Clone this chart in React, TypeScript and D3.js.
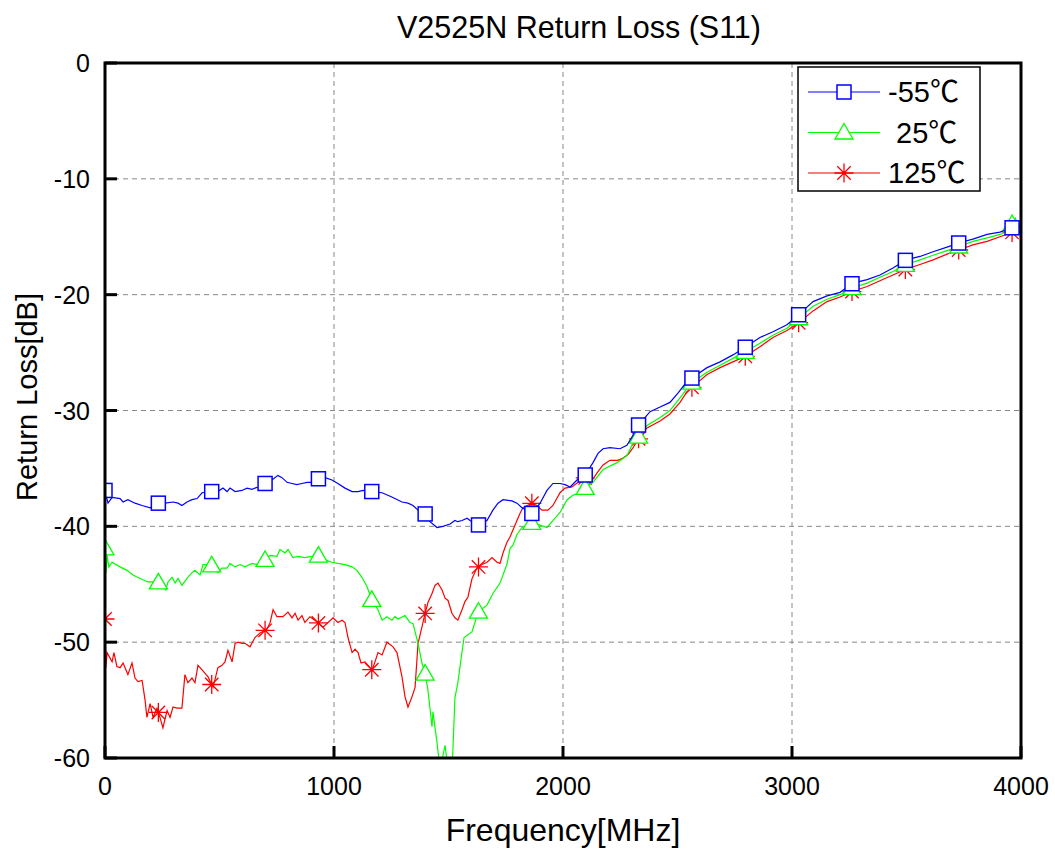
import React from 'react'
import * as d3 from 'd3'

// frequency [MHz], return loss [dB]
const lowTemp: [number, number][] = [
  [0, -36.9], [13, -38.0], [31, -37.5], [66, -37.6], [79, -37.9], [100, -37.7], [131, -38.0], [162, -38.2],
  [197, -38.4], [231, -38.0], [262, -38.0], [297, -37.9], [319, -38.0], [336, -38.2], [358, -37.9], [380, -37.7],
  [402, -37.6], [424, -37.1], [463, -37.0], [493, -37.0], [515, -36.7], [533, -37.0], [546, -36.7], [568, -37.0],
  [598, -36.9], [620, -36.7], [642, -36.8], [668, -36.6], [699, -36.3], [729, -36.0], [755, -35.6], [773, -35.8],
  [795, -36.2], [817, -36.3], [838, -36.4], [860, -36.3], [882, -36.2], [904, -36.2], [930, -35.9], [961, -35.8],
  [991, -36.0], [1017, -36.3], [1048, -36.7], [1079, -37.0], [1105, -37.0], [1127, -36.9], [1166, -37.0],
  [1210, -37.1], [1245, -37.4], [1266, -37.6], [1297, -37.9], [1323, -38.0], [1345, -38.2], [1367, -38.6],
  [1397, -38.9], [1419, -39.6], [1450, -40.1], [1476, -40.0], [1507, -39.8], [1528, -39.5], [1541, -39.6],
  [1559, -39.5], [1581, -39.3], [1594, -39.5], [1629, -39.9], [1668, -39.5], [1694, -38.6], [1716, -38.0],
  [1738, -37.7], [1777, -37.8], [1799, -38.0], [1821, -38.4], [1865, -38.9], [1900, -38.0], [1930, -36.9],
  [1956, -36.3], [1987, -36.3], [2009, -36.4], [2031, -36.6], [2061, -36.0], [2096, -35.6], [2131, -34.5],
  [2153, -33.7], [2175, -33.3], [2205, -33.2], [2249, -33.3], [2279, -33.0], [2301, -32.3], [2328, -31.3],
  [2380, -30.1], [2424, -29.7], [2467, -29.3], [2502, -28.5], [2541, -27.5], [2563, -27.2], [2629, -26.3],
  [2686, -25.8], [2742, -25.2], [2799, -24.5], [2860, -23.7], [2917, -23.2], [2978, -22.6], [3031, -21.7],
  [3092, -20.6], [3153, -20.1], [3210, -19.8], [3266, -19.0], [3328, -18.7], [3384, -18.3], [3441, -17.7],
  [3498, -17.0], [3559, -16.7], [3616, -16.3], [3677, -15.9], [3734, -15.5], [3790, -15.2], [3852, -14.8],
  [3908, -14.6], [3965, -14.2], [4000, -14.1],
]

const roomTemp: [number, number][] = [
  [0, -41.9], [5, -44.0], [9, -42.5], [17, -43.5], [31, -43.1], [66, -43.5], [96, -43.8], [122, -44.2],
  [153, -44.5], [188, -44.8], [231, -44.8], [266, -45.5], [275, -44.8], [293, -44.4], [306, -44.9], [319, -44.5],
  [336, -45.1], [358, -44.5], [380, -44.0], [393, -43.8], [415, -44.2], [428, -43.3], [463, -43.3], [493, -44.0],
  [511, -43.6], [533, -43.6], [546, -43.2], [568, -43.5], [590, -43.3], [611, -43.5], [642, -43.2], [664, -43.3],
  [699, -42.9], [721, -42.5], [751, -42.6], [764, -42.0], [786, -42.3], [799, -42.0], [821, -42.7], [843, -42.6],
  [873, -42.7], [904, -42.6], [930, -42.5], [961, -42.9], [991, -43.1], [1017, -43.2], [1048, -43.3],
  [1079, -43.5], [1100, -43.8], [1122, -44.4], [1144, -45.2], [1166, -46.4], [1192, -47.2], [1210, -48.1],
  [1231, -47.8], [1253, -48.1], [1266, -47.8], [1280, -48.0], [1310, -47.7], [1332, -48.3], [1345, -48.4],
  [1367, -50.1], [1384, -51.8], [1397, -52.6], [1410, -54.1], [1428, -57.3], [1432, -56.0], [1450, -58.7],
  [1463, -61.0], [1485, -58.9], [1498, -61.0], [1515, -61.5], [1528, -54.8], [1541, -53.5], [1555, -51.4],
  [1568, -49.6], [1603, -49.1], [1629, -47.4], [1668, -46.8], [1694, -45.8], [1725, -44.9], [1755, -43.3],
  [1769, -41.9], [1782, -41.6], [1799, -40.7], [1821, -40.1], [1865, -39.7], [1900, -39.9], [1930, -40.1],
  [1956, -39.5], [1987, -38.8], [2018, -37.7], [2044, -37.3], [2074, -37.1], [2096, -36.7], [2131, -36.2],
  [2175, -35.1], [2236, -34.5], [2279, -33.9], [2306, -32.8], [2328, -32.3], [2367, -31.3], [2424, -30.6],
  [2467, -30.0], [2511, -28.9], [2546, -28.0], [2563, -27.6], [2629, -26.7], [2686, -26.1], [2742, -25.5],
  [2799, -24.9], [2860, -24.2], [2917, -23.5], [2978, -22.9], [3031, -22.0], [3092, -21.0], [3153, -20.4],
  [3210, -20.0], [3266, -19.4], [3328, -19.0], [3384, -18.5], [3441, -18.0], [3498, -17.4], [3559, -17.0],
  [3616, -16.6], [3677, -16.2], [3734, -15.8], [3790, -15.4], [3852, -15.1], [3908, -14.8], [3943, -14.5],
  [3961, -13.9], [3975, -13.4], [3990, -14.2], [4000, -14.3],
]

const highTemp: [number, number][] = [
  [0, -48.0], [4, -52.2], [9, -50.9], [31, -51.7], [39, -50.9], [52, -52.1], [66, -52.2], [79, -51.8],
  [100, -52.8], [118, -51.8], [131, -53.1], [144, -53.4], [162, -53.3], [175, -55.0], [183, -56.5], [197, -55.3],
  [210, -56.5], [227, -55.7], [240, -56.5], [253, -57.4], [271, -55.9], [284, -56.5], [297, -55.6], [314, -55.7],
  [336, -55.7], [349, -52.8], [362, -53.5], [380, -53.1], [393, -53.5], [406, -52.0], [424, -52.4], [437, -52.7],
  [450, -53.0], [472, -53.9], [493, -52.2], [511, -52.0], [524, -51.7], [537, -50.7], [555, -51.7], [568, -50.1],
  [581, -50.0], [598, -50.1], [611, -50.1], [633, -50.4], [655, -49.6], [677, -49.2], [707, -48.9], [721, -48.3],
  [734, -47.2], [751, -47.8], [764, -47.8], [777, -47.8], [799, -47.4], [817, -47.9], [830, -47.5], [843, -48.1],
  [860, -47.7], [873, -48.3], [895, -47.8], [930, -48.3], [952, -48.7], [974, -48.3], [996, -47.9], [1017, -48.3],
  [1035, -48.1], [1048, -48.3], [1061, -49.6], [1079, -50.9], [1092, -50.6], [1105, -50.9], [1118, -51.8],
  [1135, -51.7], [1166, -52.4], [1179, -51.7], [1192, -50.9], [1210, -51.1], [1231, -50.0], [1245, -50.2],
  [1258, -50.4], [1275, -50.9], [1297, -53.0], [1310, -54.7], [1323, -55.6], [1341, -54.7], [1354, -53.9],
  [1367, -50.1], [1384, -48.7], [1393, -47.9], [1410, -46.6], [1428, -45.8], [1441, -45.1], [1454, -44.9],
  [1472, -45.5], [1485, -46.2], [1498, -46.4], [1515, -47.5], [1528, -47.9], [1541, -48.1], [1559, -47.2],
  [1572, -46.5], [1585, -46.1], [1603, -44.5], [1624, -43.6], [1646, -43.3], [1668, -43.1], [1690, -42.7],
  [1712, -43.1], [1725, -43.2], [1738, -42.3], [1755, -41.4], [1769, -40.9], [1782, -40.3], [1799, -39.5],
  [1812, -38.9], [1825, -38.4], [1865, -38.0], [1886, -38.2], [1908, -38.6], [1934, -38.6], [1956, -38.2],
  [1987, -37.1], [2009, -36.7], [2039, -36.6], [2066, -36.2], [2096, -35.8], [2118, -36.3], [2148, -35.4],
  [2175, -34.7], [2205, -34.3], [2240, -34.3], [2262, -34.1], [2284, -33.8], [2306, -33.2], [2328, -32.5],
  [2367, -31.5], [2424, -30.9], [2467, -30.3], [2511, -29.3], [2541, -28.4], [2563, -28.0], [2629, -26.9],
  [2686, -26.3], [2742, -25.8], [2799, -25.3], [2860, -24.5], [2917, -23.7], [2978, -23.1], [3031, -22.4],
  [3092, -21.4], [3153, -20.6], [3210, -20.2], [3266, -19.7], [3328, -19.3], [3384, -18.8], [3441, -18.3],
  [3498, -17.8], [3559, -17.4], [3616, -17.0], [3677, -16.5], [3734, -16.1], [3790, -15.7], [3852, -15.4],
  [3908, -15.0], [3965, -14.6], [4000, -14.5],
]

const xTicks = [0, 1000, 2000, 3000, 4000]
const yTicks = [0, -10, -20, -30, -40, -50, -60]
const markerFreqs = d3.range(0, 4000, 233)

const seriesList = [
  { name: '-55℃', data: lowTemp, color: '#0000ff', marker: 'square' },
  { name: ' 25℃', data: roomTemp, color: '#00ff00', marker: 'triangle' },
  { name: '125℃', data: highTemp, color: '#ff0000', marker: 'star' },
]

const W = 1055
const H = 851
const left = 105, right = 1021, top = 63, bottom = 758
const font = "'Liberation Sans', Arial, 'Noto Sans CJK SC', sans-serif"

const x = d3.scaleLinear().domain([0, 4000]).range([left, right])
const y = d3.scaleLinear().domain([-60, 0]).range([bottom, top])

const bisect = d3.bisector((d: [number, number]) => d[0]).left
function valueAt(data: [number, number][], f: number) {
  const i = bisect(data, f)
  if (i <= 0) return data[0][1]
  if (i >= data.length) return data[data.length - 1][1]
  const a = data[i - 1], b = data[i]
  const t = (f - a[0]) / (b[0] - a[0])
  return a[1] + t * (b[1] - a[1])
}

function Marker({ type, cx, cy, color }: { type: string; cx: number; cy: number; color: string }) {
  if (type === 'square') {
    return <rect x={cx - 7} y={cy - 7} width={14} height={14} fill="#fff" stroke={color} strokeWidth={1.5} />
  }
  if (type === 'triangle') {
    const p = `${cx},${cy - 9} ${cx - 9},${cy + 6.5} ${cx + 9},${cy + 6.5}`
    return <polygon points={p} fill="#fff" stroke={color} strokeWidth={1.3} />
  }
  const r = 9.5
  const d = [0, 45, 90, 135]
    .map(a => {
      const rad = (a * Math.PI) / 180
      const dx = r * Math.cos(rad), dy = r * Math.sin(rad)
      return `M${cx - dx},${cy - dy}L${cx + dx},${cy + dy}`
    })
    .join('')
  return <path d={d} stroke={color} strokeWidth={1.3} fill="none" />
}

export default function App() {
  const line = d3
    .line<[number, number]>()
    .x(d => x(d[0]))
    .y(d => y(d[1]))

  return (
    <svg width={W} height={H} style={{ position: 'absolute', left: 0, top: 0, background: '#fff' }} fontFamily={font}>
      <defs>
        <clipPath id="plot">
          <rect x={left} y={top} width={right - left} height={bottom - top} />
        </clipPath>
      </defs>

      {/* grid */}
      {xTicks.slice(1, -1).map(t => (
        <line key={'gx' + t} x1={x(t)} x2={x(t)} y1={top} y2={bottom} stroke="#888" strokeDasharray="5,4" />
      ))}
      {yTicks.slice(1, -1).map(t => (
        <line key={'gy' + t} x1={left} x2={right} y1={y(t)} y2={y(t)} stroke="#888" strokeDasharray="5,4" />
      ))}

      <g clipPath="url(#plot)">
        {seriesList.slice().reverse().map(s => (
          <g key={s.name}>
            <path d={line(s.data) || ''} fill="none" stroke={s.color} strokeWidth={1.2} />
            {markerFreqs.map(f => (
              <Marker key={f} type={s.marker} cx={x(f)} cy={y(valueAt(s.data, f))} color={s.color} />
            ))}
          </g>
        ))}
      </g>

      {/* frame and ticks */}
      <rect x={left} y={top} width={right - left} height={bottom - top} fill="none" stroke="#000" strokeWidth={3} />
      {xTicks.map(t => (
        <line key={'tx' + t} x1={x(t)} x2={x(t)} y1={bottom} y2={bottom - 12} stroke="#000" strokeWidth={3} />
      ))}
      {yTicks.map(t => (
        <line key={'ty' + t} x1={left} x2={left + 12} y1={y(t)} y2={y(t)} stroke="#000" strokeWidth={3} />
      ))}

      {/* tick labels */}
      {xTicks.map(t => (
        <text key={'lx' + t} x={x(t)} y={795} fontSize={25} textAnchor="middle">
          {t}
        </text>
      ))}
      {yTicks.map(t => (
        <text key={'ly' + t} x={90} y={y(t)} dy="0.36em" fontSize={25} textAnchor="end">
          {t}
        </text>
      ))}

      {/* titles */}
      <text x={579} y={38} fontSize={30.5} textAnchor="middle">
        V2525N Return Loss (S11)
      </text>
      <text x={563} y={841} fontSize={32} textAnchor="middle">
        Frequency[MHz]
      </text>
      <text transform={`translate(37,397) rotate(-90)`} fontSize={29} textAnchor="middle">
        Return Loss[dB]
      </text>

      {/* legend */}
      <rect x={798} y={67} width={182} height={124} fill="#fff" stroke="#000" strokeWidth={1.5} />
      {seriesList.map((s, i) => {
        const ly = 92 + i * 40.5
        return (
          <g key={'lg' + s.name}>
            <line x1={808} x2={880} y1={ly} y2={ly} stroke={s.color} strokeWidth={1.2} />
            <Marker type={s.marker} cx={844} cy={ly} color={s.color} />
            <text x={888} y={ly} dy="0.36em" fontSize={29} style={{ whiteSpace: 'pre' }}>
              {s.name}
            </text>
          </g>
        )
      })}
    </svg>
  )
}
